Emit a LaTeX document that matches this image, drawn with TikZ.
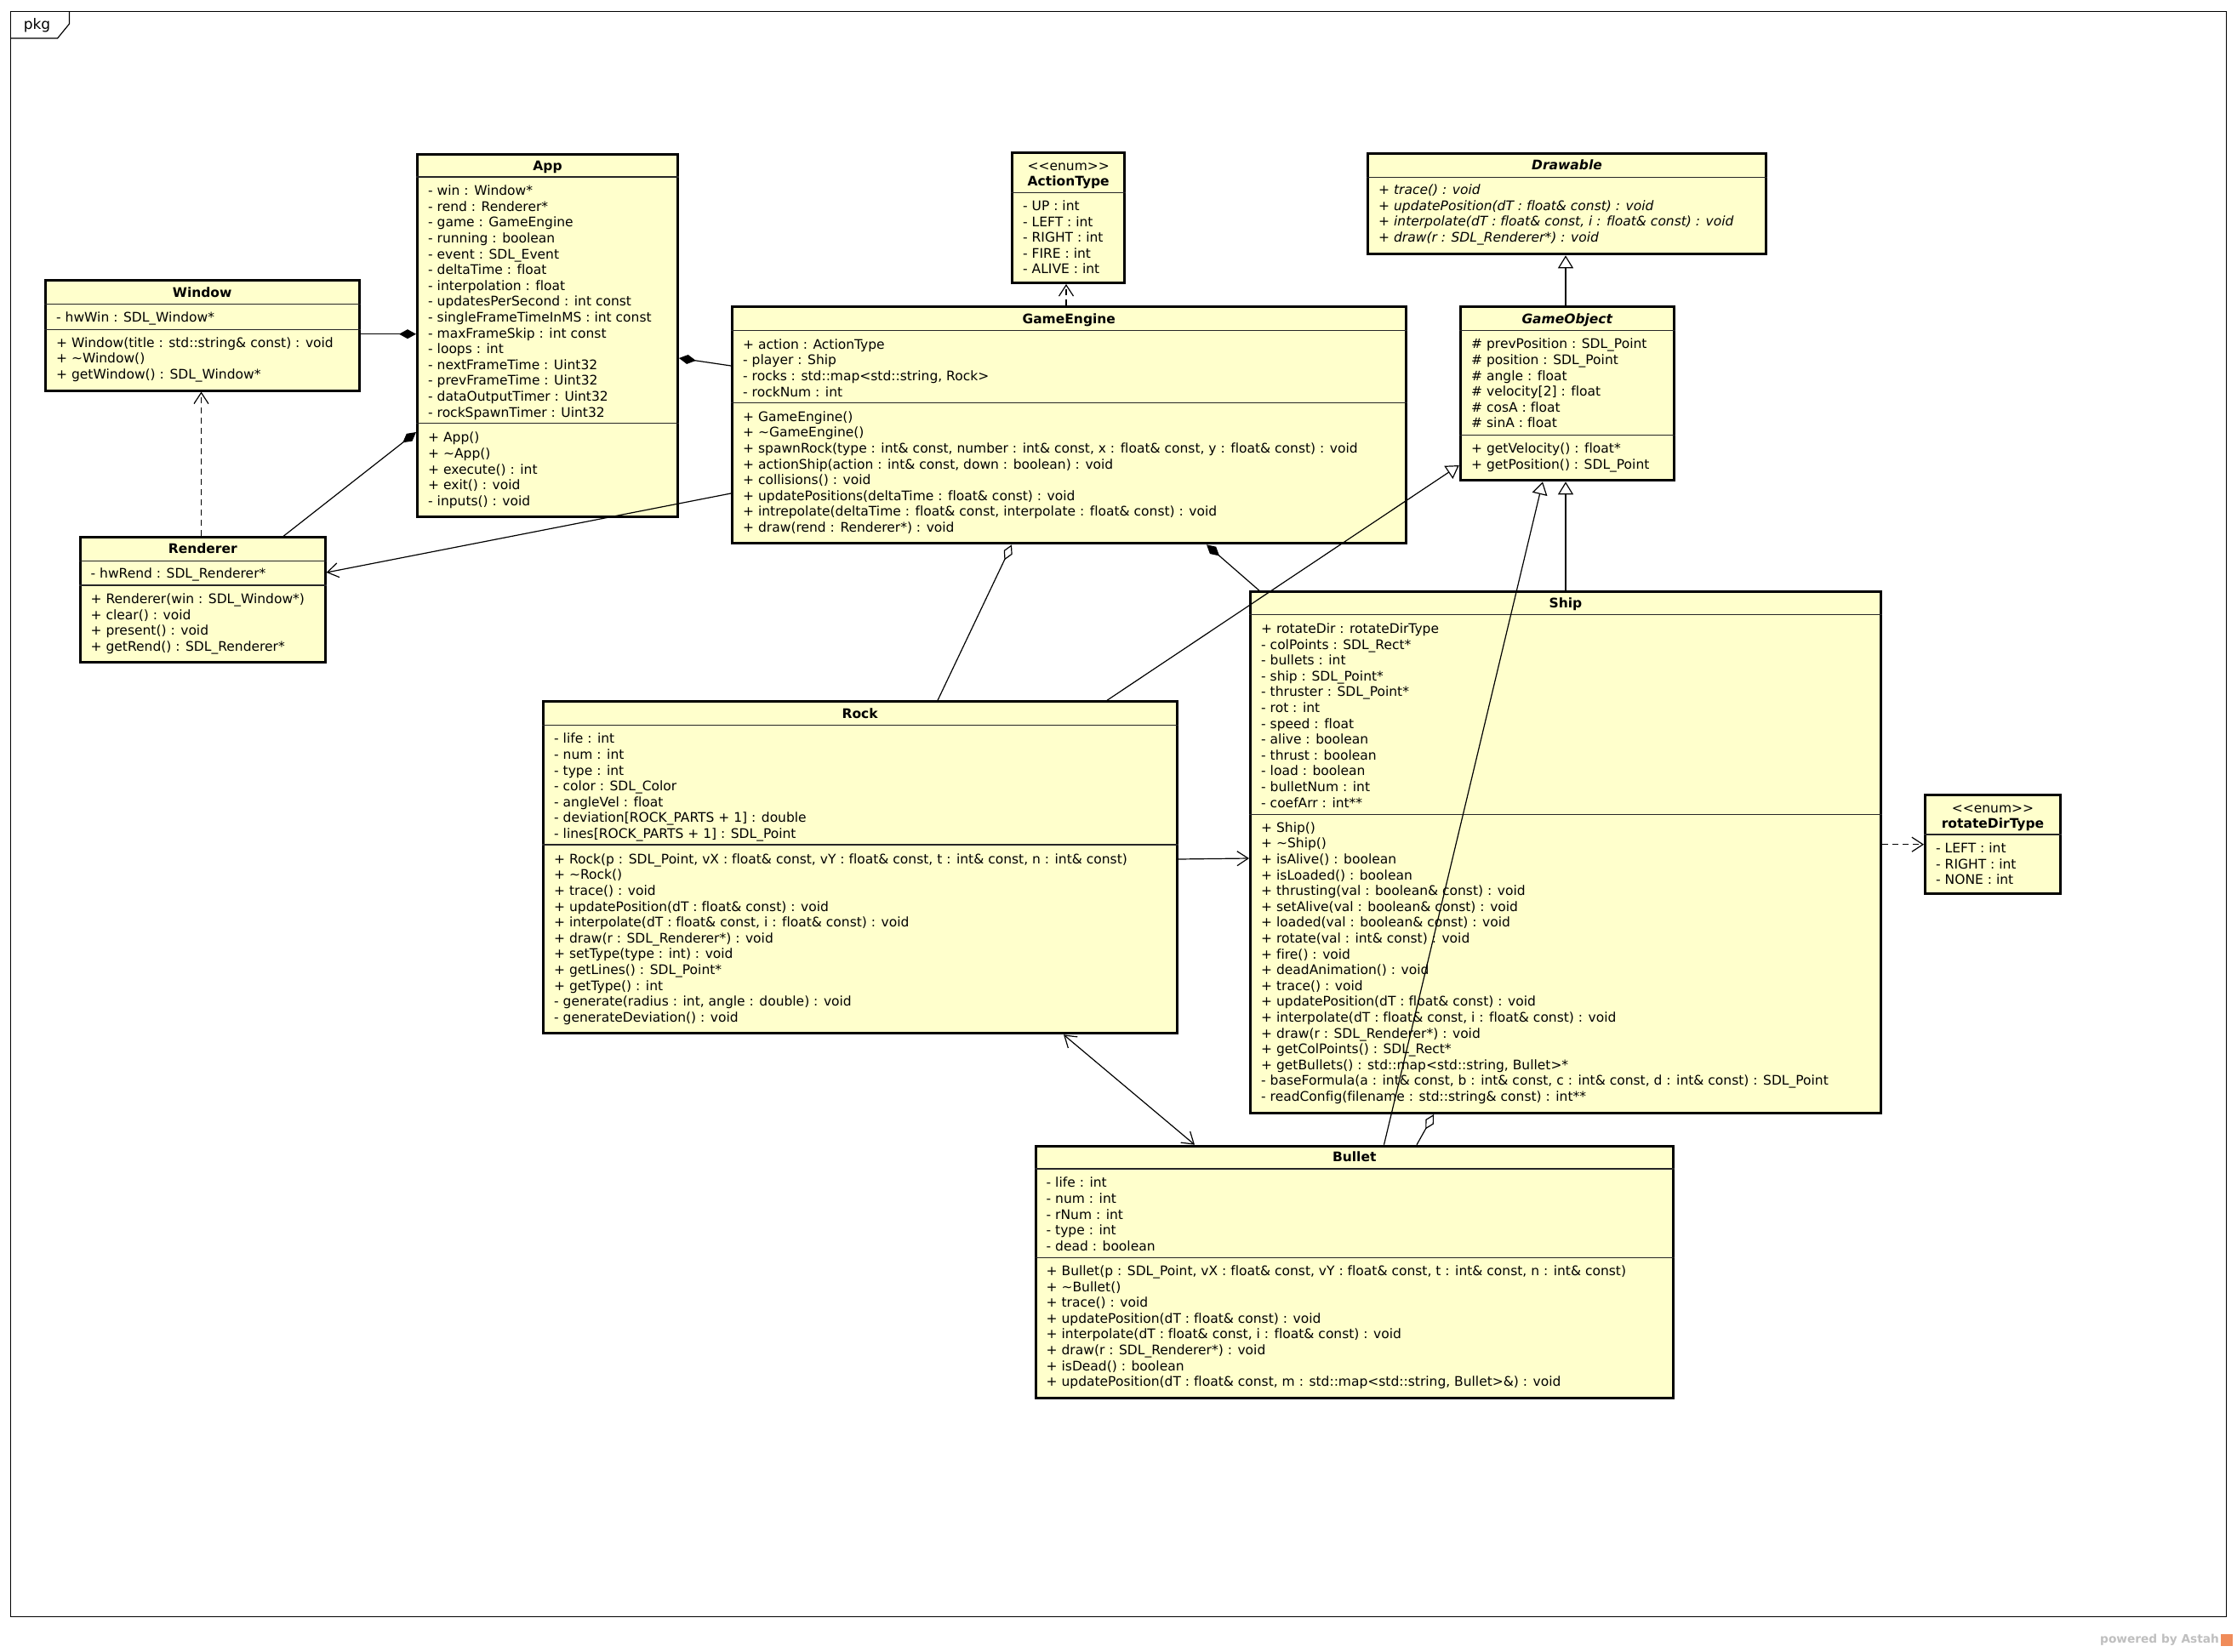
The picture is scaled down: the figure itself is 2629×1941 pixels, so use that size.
\documentclass[tikz,border=0pt]{standalone}
\usepackage{fontspec}
\setmainfont{DejaVu Sans}[Ligatures={TeXOff,CommonOff},BoldFont={DejaVu Sans Bold},ItalicFont={DejaVu Sans Oblique},BoldItalicFont={DejaVu Sans Bold Oblique}]
\usetikzlibrary{arrows.meta}
\definecolor{umlfill}{RGB}{255,255,204}
\definecolor{astahorange}{RGB}{240,140,90}
\newcommand{\lnstrut}{\rule{0pt}{14pt}}
\newcommand{\tld}{\textasciitilde}
\begin{document}
\begin{tikzpicture}[x=1pt,y=-1pt,
  clsbox/.style={draw=black,line width=3pt,fill=umlfill,inner sep=0pt,anchor=north west},
  ttl/.style={font=\bfseries\fontsize{15.5}{18.6}\selectfont,inner sep=0pt,text height=12pt,text depth=2pt,anchor=center},
  ttli/.style={ttl,font=\bfseries\itshape\fontsize{15.5}{18.6}\selectfont},
  stereo/.style={font=\fontsize{15.5}{18.6}\selectfont,inner sep=0pt,text height=12pt,text depth=2pt,anchor=center},
  txt/.style={font=\fontsize{15.5}{18.6}\selectfont,inner sep=0pt,anchor=north west,align=left},
  txti/.style={txt,font=\itshape\fontsize{15.5}{18.6}\selectfont},
  sepl/.style={line width=1.2pt,draw=black!85},
  conn/.style={line width=1.2pt,draw=black},
  comp/.style={conn,-{Diamond[length=20pt,width=11pt]}},
  aggr/.style={conn,-{Diamond[open,length=20pt,width=11pt]}},
  gen/.style={conn,-{Triangle[open,length=15pt,width=18pt]}},
  nav/.style={conn,-{Straight Barb[length=13pt,width=17pt]}},
  bothnav/.style={conn,{Straight Barb[length=13pt,width=17pt]}-{Straight Barb[length=13pt,width=17pt]}},
  depend/.style={nav,dash pattern=on 7pt off 5pt}]
\useasboundingbox (0,0) rectangle (2629,1941);
\fill[white] (0,0) rectangle (2629,1941);

% frame
\draw[line width=1.2pt] (12.6,13.3) rectangle (2616.7,1900.7);
\draw[line width=1.2pt] (12.6,44.9) -- (67.7,44.9) -- (81.5,28) -- (81.5,13.3);
\node[font=\fontsize{17}{20}\selectfont,inner sep=0pt,anchor=center] (pkg) at (43.5,30) {pkg};

% ---------- Window
\node[clsbox,minimum width=369,minimum height=129.1] (window) at (51.7,328.4) {};
\node[ttl] (window-t) at (window.north |- 0,344) {Window};
\draw[sepl] (window.west |- 0,357.5) -- (window.east |- 0,357.5);
\draw[sepl] (window.west |- 0,387.6) -- (window.east |- 0,387.6);
\node[txt] (window-a) at (66,364.3) {\lnstrut- hwWin : SDL\_Window*};
\node[txt] (window-o) at (66,394) {\lnstrut+ Window(title : std::string\& const) : void\\+ \tld Window()\\+ getWindow() : SDL\_Window*};

% ---------- App
\node[clsbox,minimum width=306,minimum height=426.5] (app) at (489,179.5) {};
\node[ttl] (app-t) at (app.north |- 0,195.3) {App};
\draw[sepl] (app.west |- 0,208) -- (app.east |- 0,208);
\draw[sepl] (app.west |- 0,497.8) -- (app.east |- 0,497.8);
\node[txt] (app-a) at (503,215.4) {\lnstrut- win : Window*\\- rend : Renderer*\\- game : GameEngine\\- running : boolean\\- event : SDL\_Event\\- deltaTime : float\\- interpolation : float\\- updatesPerSecond : int const\\- singleFrameTimeInMS : int const\\- maxFrameSkip : int const\\- loops : int\\- nextFrameTime : Uint32\\- prevFrameTime : Uint32\\- dataOutputTimer : Uint32\\- rockSpawnTimer : Uint32};
\node[txt] (app-o) at (503,505.6) {\lnstrut+ App()\\+ \tld App()\\+ execute() : int\\+ exit() : void\\- inputs() : void};

% ---------- ActionType
\node[clsbox,minimum width=131.6,minimum height=153.3] (actiontype) at (1188.4,177.7) {};
\node[stereo] (actiontype-s) at (actiontype.north |- 0,195) {<\kern0pt<enum>\kern0pt>};
\node[ttl] (actiontype-t) at (actiontype.north |- 0,213.3) {ActionType};
\draw[sepl] (actiontype.west |- 0,226.3) -- (actiontype.east |- 0,226.3);
\node[txt] (actiontype-a) at (1202,233.3) {\lnstrut- UP : int\\- LEFT : int\\- RIGHT : int\\- FIRE : int\\- ALIVE : int};

% ---------- Drawable
\node[clsbox,minimum width=468,minimum height=118.3] (drawable) at (1606,179) {};
\node[ttli] (drawable-t) at (drawable.north |- 0,194.3) {Drawable};
\draw[sepl] (drawable.west |- 0,208.3) -- (drawable.east |- 0,208.3);
\node[txti] (drawable-o) at (1620,214.3) {\lnstrut+ trace() : void\\+ updatePosition(dT : float\& const) : void\\+ interpolate(dT : float\& const, i : float\& const) : void\\+ draw(r : SDL\_Renderer*) : void};

% ---------- GameObject
\node[clsbox,minimum width=250.9,minimum height=204] (gameobject) at (1714.8,359.3) {};
\node[ttli] (gameobject-t) at (gameobject.north |- 0,375.7) {GameObject};
\draw[sepl] (gameobject.west |- 0,388.7) -- (gameobject.east |- 0,388.7);
\draw[sepl] (gameobject.west |- 0,511.3) -- (gameobject.east |- 0,511.3);
\node[txt] (gameobject-a) at (1729,395.7) {\lnstrut\# prevPosition : SDL\_Point\\\# position : SDL\_Point\\\# angle : float\\\# velocity[2] : float\\\# cosA : float\\\# sinA : float};
\node[txt] (gameobject-o) at (1729,518.7) {\lnstrut+ getVelocity() : float*\\+ getPosition() : SDL\_Point};

% ---------- GameEngine
\node[clsbox,minimum width=791.5,minimum height=278.3] (gameengine) at (859,359) {};
\node[ttl] (gameengine-t) at (gameengine.north |- 0,375.7) {GameEngine};
\draw[sepl] (gameengine.west |- 0,388.7) -- (gameengine.east |- 0,388.7);
\draw[sepl] (gameengine.west |- 0,473.7) -- (gameengine.east |- 0,473.7);
\node[txt] (gameengine-a) at (873,396) {\lnstrut+ action : ActionType\\- player : Ship\\- rocks : std::map<std::string, Rock>\\- rockNum : int};
\node[txt] (gameengine-o) at (873,481) {\lnstrut+ GameEngine()\\+ \tld GameEngine()\\+ spawnRock(type : int\& const, number : int\& const, x : float\& const, y : float\& const) : void\\+ actionShip(action : int\& const, down : boolean) : void\\+ collisions() : void\\+ updatePositions(deltaTime : float\& const) : void\\+ intrepolate(deltaTime : float\& const, interpolate : float\& const) : void\\+ draw(rend : Renderer*) : void};

% ---------- Renderer
\node[clsbox,minimum width=287.6,minimum height=146.3] (renderer) at (93,630.4) {};
\node[ttl] (renderer-t) at (renderer.north |- 0,645) {Renderer};
\draw[sepl] (renderer.west |- 0,659.4) -- (renderer.east |- 0,659.4);
\draw[sepl] (renderer.west |- 0,688) -- (renderer.east |- 0,688);
\node[txt] (renderer-a) at (106.5,665.7) {\lnstrut- hwRend : SDL\_Renderer*};
\node[txt] (renderer-o) at (106.5,695.3) {\lnstrut+ Renderer(win : SDL\_Window*)\\+ clear() : void\\+ present() : void\\+ getRend() : SDL\_Renderer*};

% ---------- Rock
\node[clsbox,minimum width=744.7,minimum height=390] (rock) at (636.8,823.3) {};
\node[ttl] (rock-t) at (rock.north |- 0,839.3) {Rock};
\draw[sepl] (rock.west |- 0,852.3) -- (rock.east |- 0,852.3);
\draw[sepl] (rock.west |- 0,993) -- (rock.east |- 0,993);
\node[txt] (rock-a) at (651,859.7) {\lnstrut- life : int\\- num : int\\- type : int\\- color : SDL\_Color\\- angleVel : float\\- deviation[ROCK\_PARTS + 1] : double\\- lines[ROCK\_PARTS + 1] : SDL\_Point};
\node[txt] (rock-o) at (651,1001) {\lnstrut+ Rock(p : SDL\_Point, vX : float\& const, vY : float\& const, t : int\& const, n : int\& const)\\+ \tld Rock()\\+ trace() : void\\+ updatePosition(dT : float\& const) : void\\+ interpolate(dT : float\& const, i : float\& const) : void\\+ draw(r : SDL\_Renderer*) : void\\+ setType(type : int) : void\\+ getLines() : SDL\_Point*\\+ getType() : int\\- generate(radius : int, angle : double) : void\\- generateDeviation() : void};

% ---------- Ship
\node[clsbox,minimum width=741,minimum height=612.7] (ship) at (1468,694.3) {};
\node[ttl] (ship-t) at (ship.north |- 0,709.4) {Ship};
\draw[sepl] (ship.west |- 0,722.8) -- (ship.east |- 0,722.8);
\draw[sepl] (ship.west |- 0,957.4) -- (ship.east |- 0,957.4);
\node[txt] (ship-a) at (1482,730.2) {\lnstrut+ rotateDir : rotateDirType\\- colPoints : SDL\_Rect*\\- bullets : int\\- ship : SDL\_Point*\\- thruster : SDL\_Point*\\- rot : int\\- speed : float\\- alive : boolean\\- thrust : boolean\\- load : boolean\\- bulletNum : int\\- coefArr : int**};
\node[txt] (ship-o) at (1482,964) {\lnstrut+ Ship()\\+ \tld Ship()\\+ isAlive() : boolean\\+ isLoaded() : boolean\\+ thrusting(val : boolean\& const) : void\\+ setAlive(val : boolean\& const) : void\\+ loaded(val : boolean\& const) : void\\+ rotate(val : int\& const) : void\\+ fire() : void\\+ deadAnimation() : void\\+ trace() : void\\+ updatePosition(dT : float\& const) : void\\+ interpolate(dT : float\& const, i : float\& const) : void\\+ draw(r : SDL\_Renderer*) : void\\+ getColPoints() : SDL\_Rect*\\+ getBullets() : std::map<std::string, Bullet>*\\- baseFormula(a : int\& const, b : int\& const, c : int\& const, d : int\& const) : SDL\_Point\\- readConfig(filename : std::string\& const) : int**};

% ---------- rotateDirType
\node[clsbox,minimum width=159,minimum height=115.4] (rotatedir) at (2261,933.3) {};
\node[stereo] (rotatedir-s) at (rotatedir.north |- 0,950) {<\kern0pt<enum>\kern0pt>};
\node[ttl] (rotatedir-t) at (rotatedir.north |- 0,968.3) {rotateDirType};
\draw[sepl] (rotatedir.west |- 0,981) -- (rotatedir.east |- 0,981);
\node[txt] (rotatedir-a) at (2275,988.3) {\lnstrut- LEFT : int\\- RIGHT : int\\- NONE : int};

% ---------- Bullet
\node[clsbox,minimum width=749.5,minimum height=296.6] (bullet) at (1215.5,1345.7) {};
\node[ttl] (bullet-t) at (bullet.north |- 0,1360) {Bullet};
\draw[sepl] (bullet.west |- 0,1374) -- (bullet.east |- 0,1374);
\draw[sepl] (bullet.west |- 0,1478.3) -- (bullet.east |- 0,1478.3);
\node[txt] (bullet-a) at (1229.5,1381.7) {\lnstrut- life : int\\- num : int\\- rNum : int\\- type : int\\- dead : boolean};
\node[txt] (bullet-o) at (1229.5,1485.3) {\lnstrut+ Bullet(p : SDL\_Point, vX : float\& const, vY : float\& const, t : int\& const, n : int\& const)\\+ \tld Bullet()\\+ trace() : void\\+ updatePosition(dT : float\& const) : void\\+ interpolate(dT : float\& const, i : float\& const) : void\\+ draw(r : SDL\_Renderer*) : void\\+ isDead() : boolean\\+ updatePosition(dT : float\& const, m : std::map<std::string, Bullet>\&) : void};

% ---------- connectors
\draw[comp] (window.east |- 0,392.7) -- (app.west |- 0,392.7);
\draw[comp] (renderer.north -| 333,0) -- (app.west |- 0,508);
\draw[comp] (gameengine.west |- 0,430) -- (app.east |- 0,421);
\draw[nav] (gameengine.west |- 0,580) -- (renderer.east |- 0,673);
\draw[depend] (gameengine.north -| 1253,0) -- (actiontype.south -| 1253,0);
\draw[depend] (renderer.north -| 236.5,0) -- (window.south -| 236.5,0);
\draw[gen] (gameobject.north -| 1840,0) -- (drawable.south -| 1840,0);
\draw[gen] (ship.north -| 1840,0) -- (gameobject.south -| 1840,0);
\draw[gen] (bullet.north -| 1626.5,0) -- (gameobject.south -| 1813,0);
\draw[gen] (rock.north -| 1301,0) -- (gameobject.west |- 0,547);
\draw[aggr] (rock.north -| 1102,0) -- (gameengine.south -| 1189,0);
\draw[comp] (ship.north -| 1480,0) -- (gameengine.south -| 1418,0);
\draw[nav] (rock.east |- 0,1010) -- (ship.west |- 0,1009);
\draw[bothnav] (rock.south -| 1250,0) -- (bullet.north -| 1404,0);
\draw[aggr] (bullet.north -| 1665,0) -- (ship.south -| 1685,0);
\draw[depend] (ship.east |- 0,992.7) -- (rotatedir.west |- 0,992.7);

% ---------- footer
\node[font=\bfseries\fontsize{13.7}{16}\selectfont,text=black!25,inner sep=0pt,anchor=east] (powered) at (2608,1928) {powered by Astah};
\node[fill=astahorange,minimum width=14,minimum height=14,inner sep=0pt,anchor=west] (astahlogo) at (2610,1928) {};
\end{tikzpicture}
\end{document}
